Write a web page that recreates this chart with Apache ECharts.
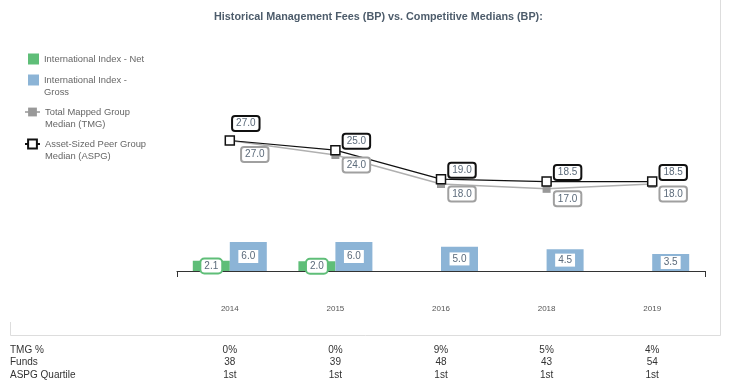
<!DOCTYPE html>
<html><head><meta charset="utf-8">
<script src="https://cdn.jsdelivr.net/npm/echarts@6/dist/echarts.min.js"></script>
<style>html,body{margin:0;padding:0;background:#fff}#c{width:734px;height:384px}</style>
</head><body><div id="c"></div>
<script>
var categories = ['2014', '2015', '2016', '2018', '2019'];
var netValues = [2.1, 2.0, null, null, null];
var grossValues = [6.0, 6.0, 5.0, 4.5, 3.5];
var tmgValues = [27.0, 24.0, 18.0, 17.0, 18.0];
var aspgValues = [27.0, 25.0, 19.0, 18.5, 18.5];
var tmgPct = ['0%', '0%', '9%', '5%', '4%'];
var funds = ['38', '39', '48', '43', '54'];
var aspgQuartile = ['1st', '1st', '1st', '1st', '1st'];
var rowHeaders = ['TMG %', 'Funds', 'ASPG Quartile'];

var FONT = 'Liberation Sans, Arial, sans-serif';
var LBL = '#5b6a7a';
var GREEN = '#5fbe78', BLUE = '#8cb4d6';

var chart = echarts.init(document.getElementById('c'), null, {renderer: 'canvas'});
function fmt(p) { return (+p.value).toFixed(1); }

function legendItem(name, top, text, isBar) {
  var l = {
    data: [{name: name}], orient: 'vertical', left: isBar ? 28 : 24, top: top, padding: 0,
    itemWidth: isBar ? 11 : 15, itemHeight: 11, itemGap: 6, selectedMode: false,
    textStyle: {color: '#666', fontSize: 9.4, fontFamily: FONT, lineHeight: 12},
    formatter: function () { return text; }
  };
  if (isBar) l.data[0].icon = 'rect';
  return l;
}

var aspgData = aspgValues.map(function (v, i) {
  return i === 0 ? {value: v, label: {offset: [16, -17]}} : v;
});
var tmgData = tmgValues.map(function (v, i) {
  return i === 0 ? {value: v, label: {offset: [25, 14]}} : v;
});

function rowAxis(data, offset) {
  return {type: 'category', data: data, gridIndex: 0, position: 'bottom', offset: offset,
    axisLine: {show: false}, axisTick: {show: false}, splitLine: {show: false},
    axisLabel: {margin: 0, fontSize: 10, color: '#333', fontFamily: FONT}};
}

var option = {
  animation: false,
  backgroundColor: '#fff',
  title: {text: 'Historical Management Fees (BP) vs. Competitive Medians (BP):', left: 209, top: 7,
    textStyle: {fontSize: 10.8, fontWeight: 'bold', color: '#4d5c6b', fontFamily: FONT}},
  legend: [
    legendItem('International Index - Net', 53, 'International Index - Net', true),
    legendItem('International Index - Gross', 62, '\nInternational Index -\nGross', true),
    legendItem('Total Mapped Group Median (TMG)', 94, '\nTotal Mapped Group\nMedian (TMG)', false),
    legendItem('Asset-Sized Peer Group Median (ASPG)', 126, '\nAsset-Sized Peer Group\nMedian (ASPG)', false)
  ],
  grid: {left: 177, right: 29, top: 126, bottom: 113},
  xAxis: [
    {type: 'category', data: categories, axisLine: {show: false}, axisTick: {show: false},
      axisLabel: {margin: 34, fontSize: 8, color: '#555', fontFamily: FONT}},
    {type: 'value', min: 0, max: 1, interval: 1, position: 'bottom',
      axisLine: {show: true, lineStyle: {color: '#333', width: 1}},
      axisTick: {show: true, length: 6, lineStyle: {color: '#333'}},
      axisLabel: {show: false}, splitLine: {show: false}},
    rowAxis(tmgPct, 74),
    rowAxis(funds, 86.5),
    rowAxis(aspgQuartile, 99)
  ],
  yAxis: {type: 'value', min: 0, max: 30, show: false, splitLine: {show: false}},
  series: [
    {name: 'International Index - Net', type: 'bar', data: netValues, barWidth: 37, barGap: '0%',
      itemStyle: {color: GREEN},
      label: {show: true, position: 'inside', formatter: fmt, color: LBL, fontSize: 10, fontFamily: FONT,
        backgroundColor: '#fff', borderColor: GREEN, borderWidth: 2, borderRadius: 3, padding: [2, 3, 1, 3]}},
    {name: 'International Index - Gross', type: 'bar', data: grossValues, barWidth: 37, barGap: '0%',
      itemStyle: {color: BLUE},
      label: {show: true, position: 'inside', formatter: fmt, color: LBL, fontSize: 10, fontFamily: FONT,
        backgroundColor: '#fff', padding: [2, 3, 1, 3]}},
    {name: 'Total Mapped Group Median (TMG)', type: 'line', data: tmgData, symbol: 'rect', symbolSize: 8,
      lineStyle: {color: '#b0b0b0', width: 1.5}, itemStyle: {color: '#999', borderWidth: 0},
      label: {show: true, position: 'inside', offset: [21, 10], formatter: fmt, color: LBL, fontSize: 10, fontFamily: FONT,
        backgroundColor: '#fff', borderColor: '#a0a0a0', borderWidth: 2, borderRadius: 2, padding: [2, 3, 1, 3]}},
    {name: 'Asset-Sized Peer Group Median (ASPG)', type: 'line', data: aspgData, symbol: 'rect', symbolSize: 9,
      lineStyle: {color: '#111', width: 1.2}, itemStyle: {color: '#fff', borderColor: '#111', borderWidth: 1.5},
      label: {show: true, position: 'inside', offset: [21, -9], formatter: fmt, color: LBL, fontSize: 10, fontFamily: FONT,
        backgroundColor: '#fff', borderColor: '#111', borderWidth: 2, borderRadius: 2, padding: [2, 3, 1, 3]}}
  ],
  graphic: [
    {type: 'line', shape: {x1: 720.5, y1: 0, x2: 720.5, y2: 335.5}, style: {stroke: '#ddd', lineWidth: 1}, silent: true},
    {type: 'line', shape: {x1: 10.5, y1: 335.5, x2: 720.5, y2: 335.5}, style: {stroke: '#ddd', lineWidth: 1}, silent: true},
    {type: 'line', shape: {x1: 10.5, y1: 322, x2: 10.5, y2: 335.5}, style: {stroke: '#ddd', lineWidth: 1}, silent: true},
    {type: 'text', left: 10, top: 345, style: {text: rowHeaders[0], font: '10px ' + FONT, fill: '#333'}},
    {type: 'text', left: 10, top: 357.5, style: {text: rowHeaders[1], font: '10px ' + FONT, fill: '#333'}},
    {type: 'text', left: 10, top: 370, style: {text: rowHeaders[2], font: '10px ' + FONT, fill: '#333'}}
  ]
};
chart.setOption(option);
</script></body></html>
